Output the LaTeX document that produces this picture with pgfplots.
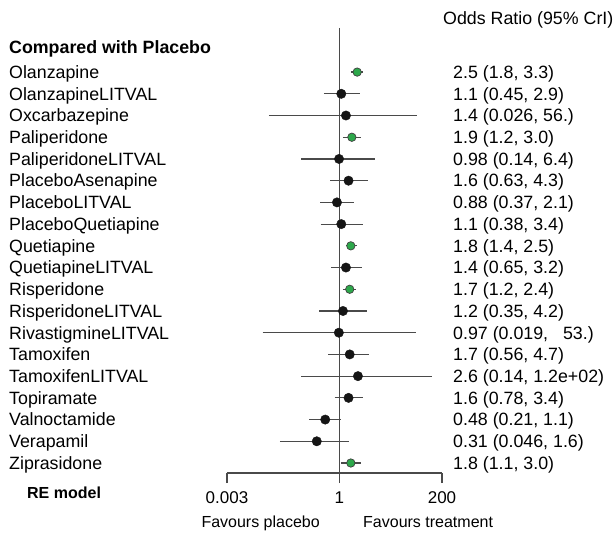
\documentclass[border=0pt]{standalone}
\usepackage{pgfplots}
\pgfplotsset{compat=1.18}
\usepackage{fontspec}
\setmainfont{Liberation Sans}
\definecolor{lc}{HTML}{4A4A4A}
\definecolor{gr}{RGB}{45,168,75}
\definecolor{dk}{HTML}{151515}
\newcommand{\fs}{\fontsize{17.8}{21}\selectfont}
\newcommand{\fsm}{\fontsize{16}{19}\selectfont}
\newcommand{\fst}{\fontsize{17}{20}\selectfont}
\begin{document}
\begin{tikzpicture}[font=\fs]
\begin{axis}[
  scale only axis, width=215pt, height=445pt,
  xmode=log, xmin=0.003, xmax=200, ymin=-19.46, ymax=1.03,
  axis x line*=bottom, axis y line=none,
  xtick={0.003,1,200}, xticklabels={0.003,1,200}, minor xtick={},
  tick align=outside, major tick length=10pt,
  x axis line style={lc, line width=1.2pt},
  every tick/.style={lc, line width=1.2pt},
  xticklabel style={font=\fst, yshift=-5pt},
  /pgf/number format/assume math mode=true,
  clip=false, unbounded coords=jump]
% reference line at 1
\addplot[lc, line width=1.2pt] coordinates {(1,1.03) (1,-19.46)};
% credible intervals
\addplot[lc, line width=1.2pt] coordinates {
(1.8,-1) (3.3,-1) (nan,-1)
(0.45,-2) (2.9,-2) (nan,-2)
(0.026,-3) (56,-3) (nan,-3)
(1.2,-4) (3.0,-4) (nan,-4)
(0.14,-5) (6.4,-5) (nan,-5)
(0.63,-6) (4.3,-6) (nan,-6)
(0.37,-7) (2.1,-7) (nan,-7)
(0.38,-8) (3.4,-8) (nan,-8)
(1.4,-9) (2.5,-9) (nan,-9)
(0.65,-10) (3.2,-10) (nan,-10)
(1.2,-11) (2.4,-11) (nan,-11)
(0.35,-12) (4.2,-12) (nan,-12)
(0.019,-13) (53,-13) (nan,-13)
(0.56,-14) (4.7,-14) (nan,-14)
(0.14,-15) (120,-15) (nan,-15)
(0.78,-16) (3.4,-16) (nan,-16)
(0.21,-17) (1.1,-17) (nan,-17)
(0.046,-18) (1.6,-18) (nan,-18)
(1.1,-19) (3.0,-19)
};
% black estimates
\addplot[only marks, mark=*, mark size=4.7pt, mark options={fill=dk, draw=dk}] coordinates {
(1.1,-2) (1.4,-3) (0.98,-5) (1.6,-6) (0.88,-7) (1.1,-8) (1.4,-10) (1.2,-12)
(0.97,-13) (1.7,-14) (2.6,-15) (1.6,-16) (0.48,-17) (0.31,-18)
};
% green estimates
\addplot[only marks, mark=*, mark size=4.2pt, mark options={fill=gr, draw=black!75, line width=0.7pt}] coordinates {
(2.5,-1) (1.9,-4) (1.8,-9) (1.7,-11) (1.8,-19)
};
\coordinate (sw) at (rel axis cs:0,0);
\coordinate (ne) at (rel axis cs:1,1);
\end{axis}
% bounding box matching the reference
\path ([xshift=-227pt, yshift=-60pt]sw) rectangle ([xshift=174pt, yshift=28pt]ne);
% header texts
\node[anchor=base west, inner sep=0] at ([xshift=216pt, yshift=448.6pt]sw) {Odds Ratio (95\% CrI)};
\node[anchor=base west, inner sep=0] at ([xshift=-218pt, yshift=419.6pt]sw) {\bfseries Compared with Placebo};
\node[anchor=base west, inner sep=0, font=\fsm] at ([xshift=-200pt, yshift=-25.7pt]sw) {\bfseries RE model};
\node[anchor=base east, inner sep=0, font=\fsm] at ([xshift=93pt, yshift=-54.7pt]sw) {Favours placebo};
\node[anchor=base west, inner sep=0, font=\fsm] at ([xshift=136pt, yshift=-54.7pt]sw) {Favours treatment};
% rows
\foreach \n/\v [count=\i] in {
Olanzapine/{2.5 (1.8, 3.3)},
OlanzapineLITVAL/{1.1 (0.45, 2.9)},
Oxcarbazepine/{1.4 (0.026, 56.)},
Paliperidone/{1.9 (1.2, 3.0)},
PaliperidoneLITVAL/{0.98 (0.14, 6.4)},
PlaceboAsenapine/{1.6 (0.63, 4.3)},
PlaceboLITVAL/{0.88 (0.37, 2.1)},
PlaceboQuetiapine/{1.1 (0.38, 3.4)},
Quetiapine/{1.8 (1.4, 2.5)},
QuetiapineLITVAL/{1.4 (0.65, 3.2)},
Risperidone/{1.7 (1.2, 2.4)},
RisperidoneLITVAL/{1.2 (0.35, 4.2)},
RivastigmineLITVAL/{0.97 (0.019,\ \ \ 53.)},
Tamoxifen/{1.7 (0.56, 4.7)},
TamoxifenLITVAL/{2.6 (0.14, 1.2e+02)},
Topiramate/{1.6 (0.78, 3.4)},
Valnoctamide/{0.48 (0.21, 1.1)},
Verapamil/{0.31 (0.046, 1.6)},
Ziprasidone/{1.8 (1.1, 3.0)}}
{
\node[anchor=base west, inner sep=0] at ([xshift=-218pt, yshift={(401-(\i-1)*21.718-6.4)*1pt}]sw) {\n};
\node[anchor=base west, inner sep=0] at ([xshift=226pt, yshift={(401-(\i-1)*21.718-6.4)*1pt}]sw) {\v};
}
\end{tikzpicture}
\end{document}
